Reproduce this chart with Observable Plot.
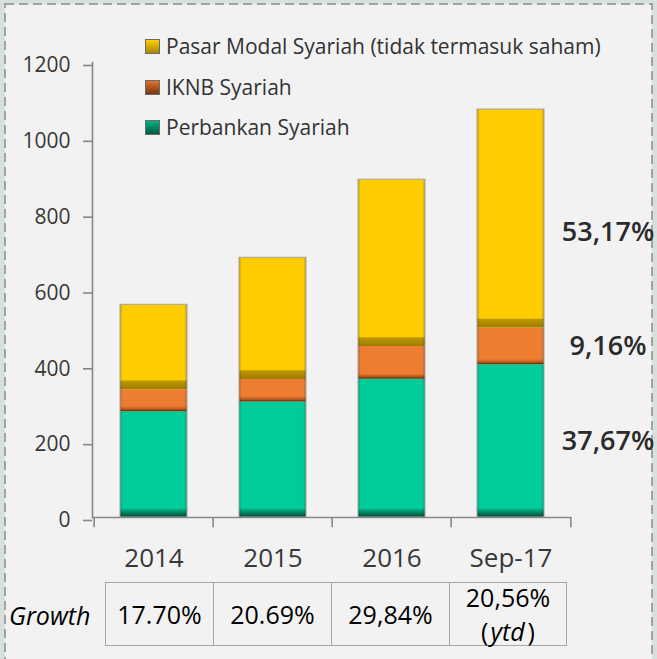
<!DOCTYPE html>
<html><head><meta charset="utf-8">
<script src="https://cdn.jsdelivr.net/npm/d3@7"></script>
<script src="https://cdn.jsdelivr.net/npm/@observablehq/plot@0.6"></script>
<style>
html,body{margin:0;padding:0;background:#d8e0dc;}
#wrap{position:relative;width:657px;height:659px;overflow:hidden;background:#d8e0dc;font-family:"Open Sans",sans-serif;}
#wrap svg{position:absolute;left:0;top:0;}
.leg{position:absolute;left:145px;height:20px;display:flex;align-items:center;font-size:21px;color:#333;white-space:nowrap;}
.sw{width:13px;height:13px;margin-right:6px;border:1px solid #6b6b6b;box-sizing:content-box;}
#growthLbl{position:absolute;left:9px;top:600px;height:30px;line-height:30px;font-size:25px;font-style:italic;font-weight:500;color:#000;}
#growth{position:absolute;left:105px;top:582px;border-collapse:collapse;}
#growth td{border:1px solid #a6a6a6;height:62px;padding:0;text-align:center;font-size:25px;font-weight:500;color:#000;line-height:30px;}
#growth td .two{line-height:34px;margin:-3px 0;}
#growth td i{margin:0 3px 0 2px;}
</style></head><body><div id="wrap"></div>
<script>
// ---- data ----
const categories = ["2014", "2015", "2016", "Sep-17"];
const seriesNames = ["Perbankan Syariah", "IKNB Syariah", "Pasar Modal Syariah (tidak termasuk saham)"];
const perbankan = [279, 305, 365, 403];
const iknb = [58, 59, 86, 97];
const pasarModal = [224, 321, 440, 576];
const yTicks = [0, 200, 400, 600, 800, 1000, 1200];
const shareLabels = ["37,67%", "9,16%", "53,17%"];
const growthLabels = ["17.70%", "20.69%", "29,84%", "20,56%"];
const growthNote = ["", "", "", "ytd"];

// ---- styles ----
const colors = ["#00cc99", "#ed7d31", "#ffcc00"];
const stripUnits = [22, 14, 23];
const W = 657, H = 659;
const mL = 92, mR = 86, mT = 62, mB = 142;
const step = (W - mL - mR) / categories.length;

const wrap = document.getElementById("wrap");

// dashed border background
const bg = d3.create("svg").attr("width", W).attr("height", H);
bg.append("rect").attr("x", 5).attr("y", 4).attr("width", 647).attr("height", 720)
  .attr("fill", "#f2f2f2").attr("stroke", "#a3a3a3").attr("stroke-width", 2).attr("stroke-dasharray", "9 5");
wrap.appendChild(bg.node());

const series = [perbankan, iknb, pasarModal];
const rows = [];
categories.forEach((c, i) => {
  let base = 0;
  series.forEach((arr, s) => {
    rows.push({cat: c, s, series: seriesNames[s], value: arr[i], y1: base, y2: base + arr[i]});
    base += arr[i];
  });
});
const totals = categories.map((c, i) => series.reduce((a, arr) => a + arr[i], 0));
const last = rows.filter(d => d.cat === "Sep-17");

const defs = () => {
  const d = d3.create("svg:defs");
  const grads = [
    ["gGreen", [["0%", "#00b98a"], ["100%", "#004a33"]]],
    ["gOrange", [["0%", "#ed7d31"], ["55%", "#c0601f"], ["100%", "#5e280c"]]],
    ["gYellow", [["0%", "#c09a00"], ["100%", "#9c7c00"]]]
  ];
  for (const [id, stops] of grads) {
    const g = d.append("linearGradient").attr("id", id).attr("x1", 0).attr("y1", 0).attr("x2", 0).attr("y2", 1);
    for (const [o, c] of stops) g.append("stop").attr("offset", o).attr("stop-color", c);
  }
  const side = d.append("linearGradient").attr("id", "gSide").attr("x1", 0).attr("y1", 0).attr("x2", 1).attr("y2", 0);
  [["0%", "rgba(0,0,0,0.22)"], ["4%", "rgba(0,0,0,0)"], ["96%", "rgba(0,0,0,0)"], ["100%", "rgba(0,0,0,0.22)"]]
    .forEach(([o, c]) => side.append("stop").attr("offset", o).attr("stop-color", c));
  return d.node();
};

const stripIds = ["url(#gGreen)", "url(#gOrange)", "url(#gYellow)"];

const plot = Plot.plot({
  width: W, height: H,
  marginLeft: mL, marginRight: mR, marginTop: mT, marginBottom: mB,
  style: {background: "transparent", fontFamily: "'Open Sans', sans-serif", color: "#383838", overflow: "visible"},
  x: {domain: categories, paddingInner: 0.44, paddingOuter: 0.22, label: null},
  y: {domain: [0, 1200], label: null},
  color: {domain: seriesNames, range: colors},
  marks: [
    defs,
    Plot.barY(rows, {x: "cat", y1: "y1", y2: "y2", fill: "series"}),
    ...[0, 1, 2].map(s => Plot.barY(rows.filter(d => d.s === s), {
      x: "cat", y1: "y1", y2: d => d.y1 + Math.min(stripUnits[s], d.value), fill: stripIds[s]
    })),
    Plot.barY(rows, {x: "cat", y1: "y1", y2: "y2", fill: "url(#gSide)"}),
    Plot.barY(categories, {x: d => d, y: (d, i) => totals[i], fill: "none", stroke: "#a3a3a3", strokeWidth: 1}),
    Plot.ruleY([0], {stroke: "#878787", strokeWidth: 1.6}),
    Plot.frame({anchor: "left", stroke: "#878787", strokeWidth: 1.6}),
    Plot.ruleX(categories, {x: d => d, dx: -step / 2, y1: 0, y2: -27, stroke: "#878787", strokeWidth: 1.6}),
    Plot.ruleX(categories.slice(-1), {x: d => d, dx: step / 2, y1: 0, y2: -27, stroke: "#878787", strokeWidth: 1.6}),
    Plot.axisY({ticks: yTicks, tickSize: 9, tickPadding: 13, fontSize: 21, stroke: "#878787", strokeWidth: 1.6, dy: 3, tickFormat: d => String(d)}),
    Plot.axisX({tickSize: 0, tickPadding: 31, fontSize: 26}),
    Plot.text(last.filter(d => d.s < 2), {x: "cat", y: d => (d.y1 + d.y2) / 2, text: d => shareLabels[d.s], dx: 97, fontSize: 27, fontWeight: 600, fill: "#2b2b2b"}),
    Plot.text(last.filter(d => d.s === 2), {x: "cat", y: d => (d.y1 + d.y2) / 2, text: d => shareLabels[d.s], dx: 97, dy: 14, fontSize: 27, fontWeight: 600, fill: "#2b2b2b"})
  ]
});
wrap.appendChild(plot);

// legend (top to bottom: Pasar Modal, IKNB, Perbankan)
const swatchGrad = ["linear-gradient(#00b386,#00573c)", "linear-gradient(#e0722a,#7a3512)", "linear-gradient(#ffd000,#a88600)"];
const legTops = [117, 77, 36];
[2, 1, 0].forEach(s => {
  const div = document.createElement("div");
  div.className = "leg";
  div.style.top = legTops[s] + "px";
  const sw = document.createElement("span");
  sw.className = "sw";
  sw.style.background = swatchGrad[s];
  div.appendChild(sw);
  div.appendChild(document.createTextNode(seriesNames[s]));
  wrap.appendChild(div);
});

// growth table
const gl = document.createElement("div");
gl.id = "growthLbl";
gl.textContent = "Growth";
wrap.appendChild(gl);
const table = document.createElement("table");
table.id = "growth";
const tr = document.createElement("tr");
const cellW = [107, 117, 117, 116];
growthLabels.forEach((g, i) => {
  const td = document.createElement("td");
  td.style.width = cellW[i] + "px";
  if (growthNote[i]) {
    const box = document.createElement("div");
    box.className = "two";
    box.appendChild(document.createTextNode(g));
    box.appendChild(document.createElement("br"));
    box.appendChild(document.createTextNode("("));
    const em = document.createElement("i");
    em.textContent = growthNote[i];
    box.appendChild(em);
    box.appendChild(document.createTextNode(")"));
    td.appendChild(box);
  } else {
    td.appendChild(document.createTextNode(g));
  }
  tr.appendChild(td);
});
table.appendChild(tr);
wrap.appendChild(table);
</script></body></html>
